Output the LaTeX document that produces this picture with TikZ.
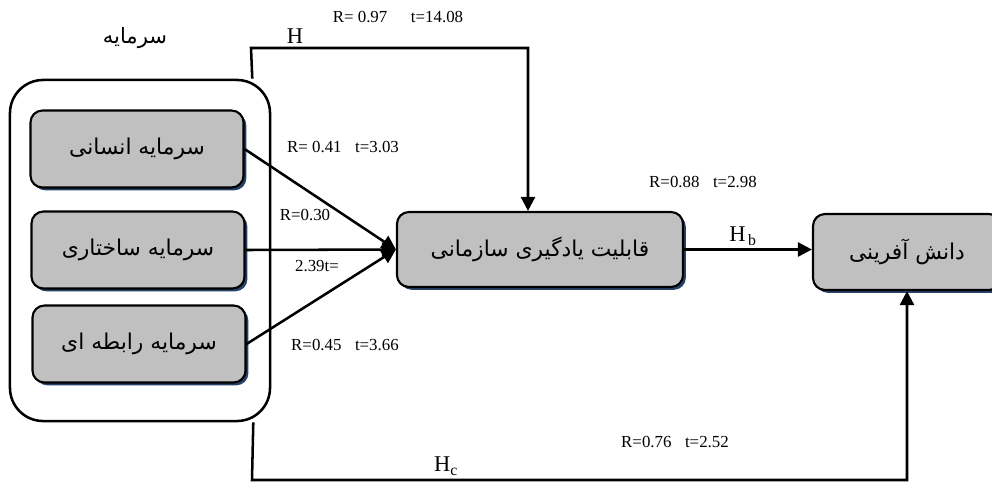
\documentclass[tikz,border=0pt]{standalone}
\usepackage{fontspec}
\usepackage{xcolor}
\usepackage{tikz}
\usetikzlibrary{arrows.meta,shadows}
\setmainfont{Liberation Serif}
\newfontfamily\fafont[Script=Arabic]{DejaVu Sans}
\TeXXeTstate=1
\definecolor{boxgray}{RGB}{192,192,192}
\definecolor{shadowblue}{RGB}{38,66,104}
\tikzset{
	capbox/.style={draw, line width=1.5pt, fill=boxgray, rounded corners=0.3cm,
		minimum width=5.325cm, minimum height=1.925cm,
		drop shadow={shadow xshift=2pt, shadow yshift=-2pt, fill=shadowblue, opacity=1},
		font=\fafont\fontsize{15.5}{18}\selectfont},
	outerbox/.style={draw, line width=1.8pt, rounded corners=0.83cm,
		minimum width=6.5cm, minimum height=8.525cm},
	conn/.style={line width=1.8pt, -{Triangle[length=10pt,width=10pt]}},
	lbl/.style={font=\fontsize{12}{14}\selectfont, inner sep=0pt},
	hlbl/.style={font=\fontsize{16}{18}\selectfont, inner sep=0pt}
}
\begin{document}
\begin{tikzpicture}[x=0.025cm, y=-0.025cm]
			\clip (0,0) rectangle (992,482);
			\node[outerbox] (capital) at (140,250.5) {};
			\node[font=\fafont\fontsize{15}{18}\selectfont] (capitaltitle) at (135,38) {\beginR سرمایه\endR};
			\node[capbox] (human) at (137,149) {\beginR سرمایه انسانی\endR};
			\node[capbox] (structural) at (138,250) {\beginR سرمایه ساختاری\endR};
			\node[capbox] (relational) at (139,344) {\beginR سرمایه رابطه ای\endR};
			\node[capbox, minimum width=7.15cm, minimum height=1.875cm] (learning) at (540,249.5) {\beginR قابلیت یادگیری سازمانی\endR};
			\node[capbox, minimum width=4.7cm, minimum height=1.9cm] (creation) at (907,252) {\beginR دانش آفرینی\endR};
			\draw[conn] (human.east) -- (learning.west);
			\draw[conn] (structural.east) -- (learning.west);
			\draw[conn] (relational.east) -- (learning.west);
			\draw[conn] (learning.east) -- (learning.east -| creation.west);
			\coordinate (htop) at ([xshift=-0.475cm]capital.north east);
			\coordinate (hbend) at (251,48);
			\draw[conn] (htop) -- (hbend) -| ([xshift=-0.3cm]learning.north);
			\coordinate (hcstart) at ([xshift=-0.45cm]capital.south east);
			\coordinate (hcbend) at (252,480);
			\draw[conn] (hcstart) -- (hcbend) -| (creation.south);
			\node[lbl] (rtop) at (398,17) {R= 0.97\hspace{1.4em}t=14.08};
			\node[hlbl] (htext) at (295,36) {H};
			\node[lbl] (rhuman) at (343,147) {R= 0.41\hspace{0.8em}t=3.03};
			\node[lbl] (rstruct) at (305,215) {R=0.30};
			\node[lbl] (tstruct) at (317,266) {2.39t=};
			\node[lbl] (rrel) at (345,345) {R=0.45\hspace{0.8em}t=3.66};
			\node[lbl] (rlearn) at (703,182) {R=0.88\hspace{0.8em}t=2.98};
			\node[hlbl] (hbtext) at (743,236) {H\textsubscript{\,b}};
			\node[lbl] (rcreate) at (675,442) {R=0.76\hspace{0.8em}t=2.52};
			\node[hlbl] (hctext) at (446,466) {H\textsubscript{c}};
		\end{tikzpicture}
\end{document}
